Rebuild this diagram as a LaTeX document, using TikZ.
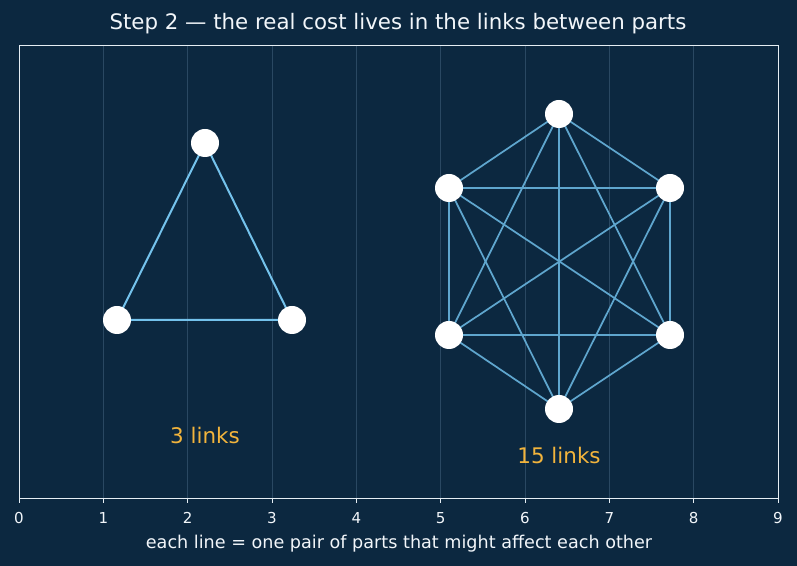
\documentclass[tikz,border=0pt]{standalone}
\usepackage{fontspec}
\setmainfont{DejaVu Sans}
\definecolor{bg}{HTML}{0C2840}
\definecolor{gridc}{HTML}{2A4862}
\definecolor{framec}{HTML}{E6EEF4}
\definecolor{txt}{HTML}{F2F6FA}
\definecolor{triedge}{HTML}{74C2EC}
\definecolor{hexedge}{HTML}{5FA6CE}
\definecolor{lab}{HTML}{F2B43C}
\tikzset{
  vtx/.style={circle, fill=white, draw=none, minimum size=21pt, inner sep=0pt},
  triline/.style={triedge, line width=1.5pt},
  hexline/.style={hexedge, line width=1.3pt},
  ticklab/.style={anchor=base, text=txt, font=\fontsize{11.3}{13}\selectfont},
  countlab/.style={anchor=base, text=lab, font=\fontsize{16.1}{19}\selectfont}
}
\begin{document}
\begin{tikzpicture}[x=0.75pt,y=-0.75pt]
\fill[bg] (0,0) rectangle (797,566);
\useasboundingbox (0,0) rectangle (797,566);
% grid
\foreach \k in {1,...,8} {
  \draw[gridc, line width=0.6pt] ({19+84.333*\k},45) -- ({19+84.333*\k},498);
}
% frame
\draw[framec, line width=0.7pt] (19,45) rectangle (778,498);
% ticks
\foreach \k in {0,...,9} {
  \draw[framec, line width=0.7pt] ({19+84.333*\k},498) -- ({19+84.333*\k},503);
  \node[ticklab] (t\k) at ({19+84.333*\k},524) {\k};
}
% title and axis label
\node[anchor=base, text=txt, font=\fontsize{16}{19}\selectfont] (title) at (398,30) {Step 2 — the real cost lives in the links between parts};
\node[anchor=base, text=txt, font=\fontsize{13.2}{15}\selectfont] (xlab) at (399,549) {each line = one pair of parts that might affect each other};
% triangle
\coordinate (A) at (205,143);
\coordinate (B) at (117,320);
\coordinate (C) at (292,320);
\draw[triline] (A) -- (B) -- (C) -- (A);
\node[vtx] (a) at (A) {};
\node[vtx] (b) at (B) {};
\node[vtx] (c) at (C) {};
\node[countlab] (l3) at (205,444) {3 links};
% hexagon
\coordinate (H1) at (559,114);
\coordinate (H2) at (670,188);
\coordinate (H3) at (670,335);
\coordinate (H4) at (559,409);
\coordinate (H5) at (449,335);
\coordinate (H6) at (449,188);
\foreach \i/\j in {1/2,1/3,1/4,1/5,1/6,2/3,2/4,2/5,2/6,3/4,3/5,3/6,4/5,4/6,5/6} {
  \draw[hexline] (H\i) -- (H\j);
}
\foreach \i in {1,...,6} {
  \node[vtx] (h\i) at (H\i) {};
}
\node[countlab] (l15) at (559,464) {15 links};
\end{tikzpicture}
\end{document}
